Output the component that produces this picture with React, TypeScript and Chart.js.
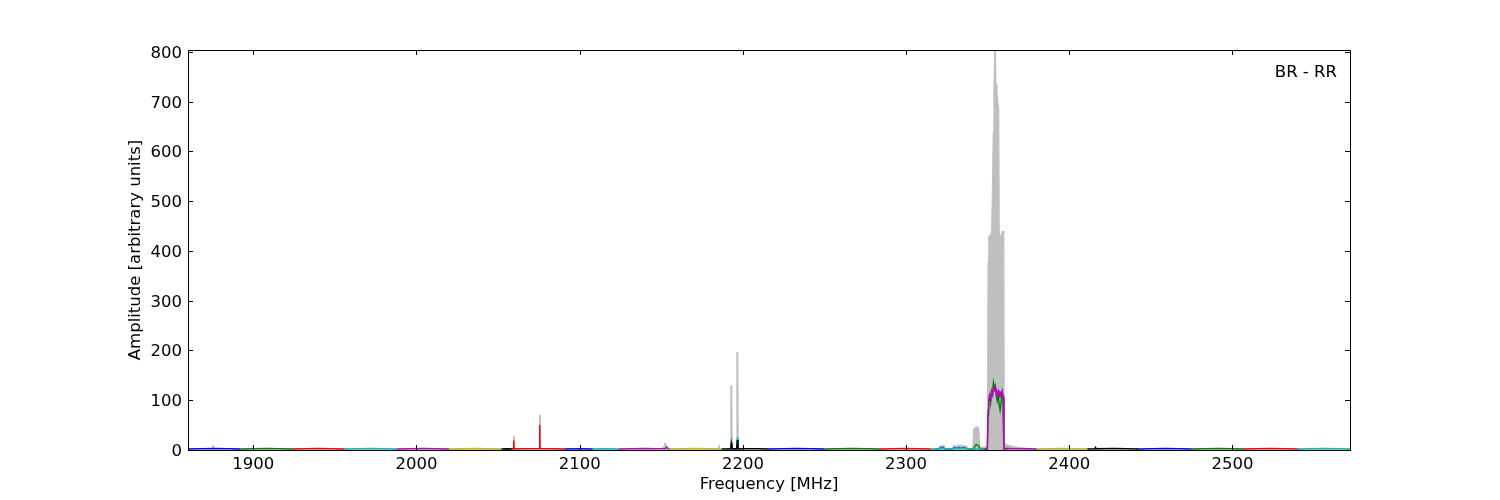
import React, { useEffect, useRef } from 'react';
import { Chart, registerables } from 'chart.js';

Chart.register(...registerables);

const xTicks = [1900, 2000, 2100, 2200, 2300, 2400, 2500];
const yTicks = [0, 100, 200, 300, 400, 500, 600, 700, 800];
const xMin = 1860;
const xMax = 2572;
const yMin = 0;
const yMax = 804;
const xTitle = 'Frequency [MHz]';
const yTitle = 'Amplitude [arbitrary units]';
const panelLabel = 'BR - RR';

const B = '#0000ff';
const G = '#008000';
const R = '#ff0000';
const C = '#00bfbf';
const M = '#bf00bf';
const Y = '#bfbf00';
const K = '#000000';
const GREY = '#bfbfbf';

// grey envelope (filled)
const greyFreq = [
  1860, 1874.9, 1875.1, 1875.5, 1875.7,
  2059.3, 2059.5, 2059.8, 2060.0,
  2075.2, 2075.4, 2075.7, 2075.9,
  2150, 2151.5, 2152.5, 2153.3, 2154, 2155,
  2185.2, 2185.4, 2185.8, 2186.0,
  2192.3, 2192.6, 2193.2, 2193.5,
  2195.9, 2196.3, 2196.9, 2197.2,
  2320, 2320.6, 2323.4, 2324,
  2328.5, 2329, 2331, 2332, 2333, 2335, 2336.8, 2337.3,
  2340.8, 2341.4, 2342.5, 2343.5, 2344.6, 2345.1,
  2349.8, 2350.2, 2350.6, 2351.8, 2352.4, 2352.9, 2353.4, 2353.8, 2354.3, 2354.8,
  2355.1, 2355.6, 2356.2, 2356.8, 2357.1, 2357.7, 2358.3, 2358.8, 2359.4, 2359.9,
  2360.2, 2361, 2363, 2366, 2370, 2375, 2380,
  2415.6, 2415.9, 2416.3, 2416.6, 2572,
];
const greyAmp = [
  2, 2, 9, 9, 2,
  2, 27, 27, 2,
  2, 70, 70, 2,
  2, 7, 15, 8, 5, 2,
  2, 10, 10, 2,
  2, 129, 129, 2,
  2, 196, 196, 2,
  2, 8, 9, 2,
  2, 9, 8, 10, 9, 9, 8, 2,
  2, 42, 46, 47, 44, 6,
  6, 380, 430, 432, 440, 540, 640, 730, 804, 804,
  735, 725, 700, 690, 440, 430, 425, 440, 438, 440,
  15, 12, 9, 7, 5, 3, 2,
  2, 8, 8, 2, 2,
];

// coloured band lines
const bandColors = [B, G, R, C, M, Y, K, R, B, C, M, Y, K, B, G, R, C, M, Y, K, B, G, R, C];
const bandFreqs: number[][] = [
  [1860, 1868, 1876, 1884, 1892],
  [1892, 1900, 1908, 1916, 1924],
  [1924, 1932, 1940, 1948, 1956],
  [1956, 1964, 1972, 1980, 1988],
  [1988, 1996, 2004, 2012, 2020],
  [2020, 2028, 2036, 2044, 2052],
  [2052, 2055.5, 2059],
  [2059, 2059.4, 2059.6, 2059.8, 2067, 2075.3, 2075.5, 2075.7, 2083, 2091],
  [2091, 2099.5, 2108],
  [2108, 2116, 2124],
  [2124, 2132, 2140, 2148, 2152.5, 2153.3, 2154, 2155],
  [2155, 2163, 2171, 2179, 2187],
  [2187, 2192.5, 2192.9, 2193.3, 2196.2, 2196.6, 2197.0, 2202, 2209, 2216],
  [2216, 2224.5, 2233, 2241.5, 2250],
  [2250, 2258.5, 2267, 2275.5, 2284],
  [2284, 2292, 2300, 2307, 2315],
  [2315, 2323, 2331, 2339, 2348],
  [2348, 2349.8, 2350.2, 2350.6, 2351, 2351.5, 2352, 2352.5, 2353, 2353.5, 2354, 2354.5, 2355, 2355.5,
    2356, 2356.5, 2357, 2357.5, 2358, 2358.5, 2359, 2359.5, 2359.9, 2362, 2366, 2372, 2380],
  [2380, 2388, 2396, 2404, 2411],
  [2411, 2415.7, 2416.1, 2416.5, 2427, 2435, 2443],
  [2443, 2451, 2459, 2467, 2475],
  [2475, 2483, 2491, 2499, 2507],
  [2507, 2515, 2523.5, 2532, 2540],
  [2540, 2548, 2556, 2564, 2572],
];
const bandAmps: number[][] = [
  [2, 2.8, 3.2, 2.8, 2],
  [2, 2.8, 3.2, 2.8, 2],
  [2, 2.8, 3.2, 2.8, 2],
  [2, 2.8, 3.2, 2.8, 2],
  [2, 2.8, 3.2, 2.8, 2],
  [2, 2.8, 3.2, 2.8, 2],
  [2, 2.4, 2],
  [2, 2.4, 19, 2.4, 2.8, 3, 50, 3, 2.8, 2],
  [2, 2.8, 2],
  [2, 2.8, 2],
  [2, 2.8, 3.2, 2.8, 3, 6, 3, 2],
  [2, 2.8, 3.2, 2.8, 2],
  [2, 2.4, 13, 2.4, 2.4, 20, 2.4, 2.8, 2.8, 2],
  [2, 2.8, 3.2, 2.8, 2],
  [2, 2.8, 3.2, 2.8, 2],
  [2, 2.8, 3.2, 2.8, 2],
  [2, 2.8, 3.2, 2.8, 2],
  [2, 2.4, 80, 95, 107, 100, 112, 117, 110, 122, 127, 118, 125, 114,
    108, 120, 118, 105, 115, 112, 118, 108, 3, 3, 2.8, 2.4, 2],
  [2, 2.8, 3.2, 2.8, 2],
  [2, 2.4, 5, 2.4, 3.2, 2.8, 2],
  [2, 2.8, 3.2, 2.8, 2],
  [2, 2.8, 3.2, 2.8, 2],
  [2, 2.8, 3.2, 2.8, 2],
  [2, 2.8, 3.2, 2.8, 2],
];

// overlay lines
const greenFreq = [2339, 2341.5, 2342.2, 2343, 2343.8, 2344.6, 2345.2, 2349.8, 2350.2, 2350.6, 2351.2, 2351.8,
  2352.4, 2353, 2353.5, 2354, 2354.6, 2355.2, 2355.8, 2356.4, 2357, 2357.6, 2358.2, 2358.8, 2359.4, 2359.9, 2362];
const greenAmp = [2, 2, 8, 11, 10, 8, 2, 2, 70, 100, 110, 95,
  120, 115, 135, 125, 130, 110, 100, 118, 92, 80, 95, 115, 100, 2, 2];
const cyanFreq = [2190, 2192.5, 2192.9, 2193.3, 2196.2, 2196.6, 2197.0, 2199];
const cyanAmp = [2, 2, 16, 2, 2, 25, 2, 2];
const blueFreq = [2318, 2320.4, 2321, 2323, 2323.6, 2328.6, 2329.2, 2331, 2332, 2333.5, 2335, 2336.6, 2337.2, 2340];
const blueAmp = [2, 2, 5, 5, 2, 2, 5, 4, 5, 4, 5, 4, 2, 2];

const FONT = '"DejaVu Sans", sans-serif';
const FS = 16.5;

function pts(fs: number[], as: number[]) {
  const n = Math.min(fs.length, as.length);
  const out: { x: number; y: number }[] = [];
  for (let i = 0; i < n; i++) out.push({ x: fs[i], y: as[i] });
  return out;
}

const framePlugin = {
  id: 'mplFrame',
  afterDraw(chart: any) {
    const { ctx, chartArea: a, scales } = chart;
    const xs = scales.x;
    const ys = scales.y;
    ctx.save();
    ctx.strokeStyle = '#000';
    ctx.lineWidth = 1;
    ctx.strokeRect(Math.round(a.left) + 0.5, Math.round(a.top) + 0.5, Math.round(a.right - a.left), Math.round(a.bottom - a.top));
    const tl = 5;
    ctx.beginPath();
    xTicks.forEach((v) => {
      const px = Math.round(xs.getPixelForValue(v)) + 0.5;
      ctx.moveTo(px, a.bottom);
      ctx.lineTo(px, a.bottom - tl);
      ctx.moveTo(px, a.top);
      ctx.lineTo(px, a.top + tl);
    });
    yTicks.forEach((v) => {
      const py = Math.round(ys.getPixelForValue(v)) + 0.5;
      ctx.moveTo(a.left, py);
      ctx.lineTo(a.left + tl, py);
      ctx.moveTo(a.right, py);
      ctx.lineTo(a.right - tl, py);
    });
    ctx.stroke();

    ctx.fillStyle = '#000';
    ctx.font = `${FS}px ${FONT}`;
    // x tick labels
    ctx.textAlign = 'center';
    ctx.textBaseline = 'alphabetic';
    xTicks.forEach((v) => {
      ctx.fillText(String(v), xs.getPixelForValue(v), a.bottom + 18.5);
    });
    // y tick labels
    ctx.textAlign = 'right';
    yTicks.forEach((v) => {
      ctx.fillText(String(v), a.left - 6, ys.getPixelForValue(v) + 6);
    });
    // x title
    ctx.textAlign = 'center';
    ctx.fillText(xTitle, (a.left + a.right) / 2, a.bottom + 39);
    // y title
    ctx.save();
    ctx.translate(136, (a.top + a.bottom) / 2);
    ctx.rotate(-Math.PI / 2);
    ctx.textAlign = 'center';
    ctx.textBaseline = 'middle';
    ctx.fillText(yTitle, 0, 0);
    ctx.restore();
    // panel label
    ctx.textAlign = 'right';
    ctx.textBaseline = 'alphabetic';
    ctx.fillText(panelLabel, a.right - 13, a.top + 26.5);
    ctx.restore();
  },
};

export default function App() {
  const ref = useRef<HTMLCanvasElement>(null);
  useEffect(() => {
    const canvas = ref.current;
    if (!canvas) return;
    const line = { pointRadius: 0, pointHoverRadius: 0, tension: 0, fill: false, borderWidth: 1.4 };
    const datasets: any[] = [];
    bandFreqs.forEach((fs, i) => {
      datasets.push({ ...line, data: pts(fs, bandAmps[i]), borderColor: bandColors[i], order: 1 });
    });
    datasets.push({ ...line, data: pts(greenFreq, greenAmp), borderColor: G, order: 2 });
    datasets.push({ ...line, data: pts(cyanFreq, cyanAmp), borderColor: C, order: 3 });
    datasets.push({ ...line, data: pts(blueFreq, blueAmp), borderColor: '#1f6fd0', order: 3 });
    datasets.push({
      ...line,
      data: pts(greyFreq, greyAmp),
      borderColor: GREY,
      backgroundColor: GREY,
      borderWidth: 1,
      fill: 'origin',
      order: 10,
    });
    const chart = new Chart(canvas, {
      type: 'line',
      data: { datasets },
      options: {
        animation: false,
        responsive: false,
        devicePixelRatio: 1,
        layout: { padding: { left: 0, right: 150, top: 50, bottom: 0 } },
        plugins: { legend: { display: false }, tooltip: { enabled: false } },
        scales: {
          x: {
            type: 'linear',
            min: xMin,
            max: xMax,
            grid: { display: false },
            border: { display: false },
            afterBuildTicks: (s: any) => {
              s.ticks = xTicks.map((v) => ({ value: v }));
            },
            afterFit: (s: any) => {
              s.height = 50;
            },
            ticks: { display: false },
            title: { display: false },
          },
          y: {
            type: 'linear',
            min: yMin,
            max: yMax,
            grid: { display: false },
            border: { display: false },
            afterBuildTicks: (s: any) => {
              s.ticks = yTicks.map((v) => ({ value: v }));
            },
            afterFit: (s: any) => {
              s.width = 188;
            },
            ticks: { display: false },
            title: { display: false },
          },
        },
      },
      plugins: [framePlugin],
    } as any);
    return () => chart.destroy();
  }, []);
  return (
    <div style={{ position: 'fixed', left: 0, top: 0, width: 1500, height: 500, background: '#fff' }}>
      <canvas ref={ref} width={1500} height={500} style={{ display: 'block', width: 1500, height: 500 }} />
    </div>
  );
}
